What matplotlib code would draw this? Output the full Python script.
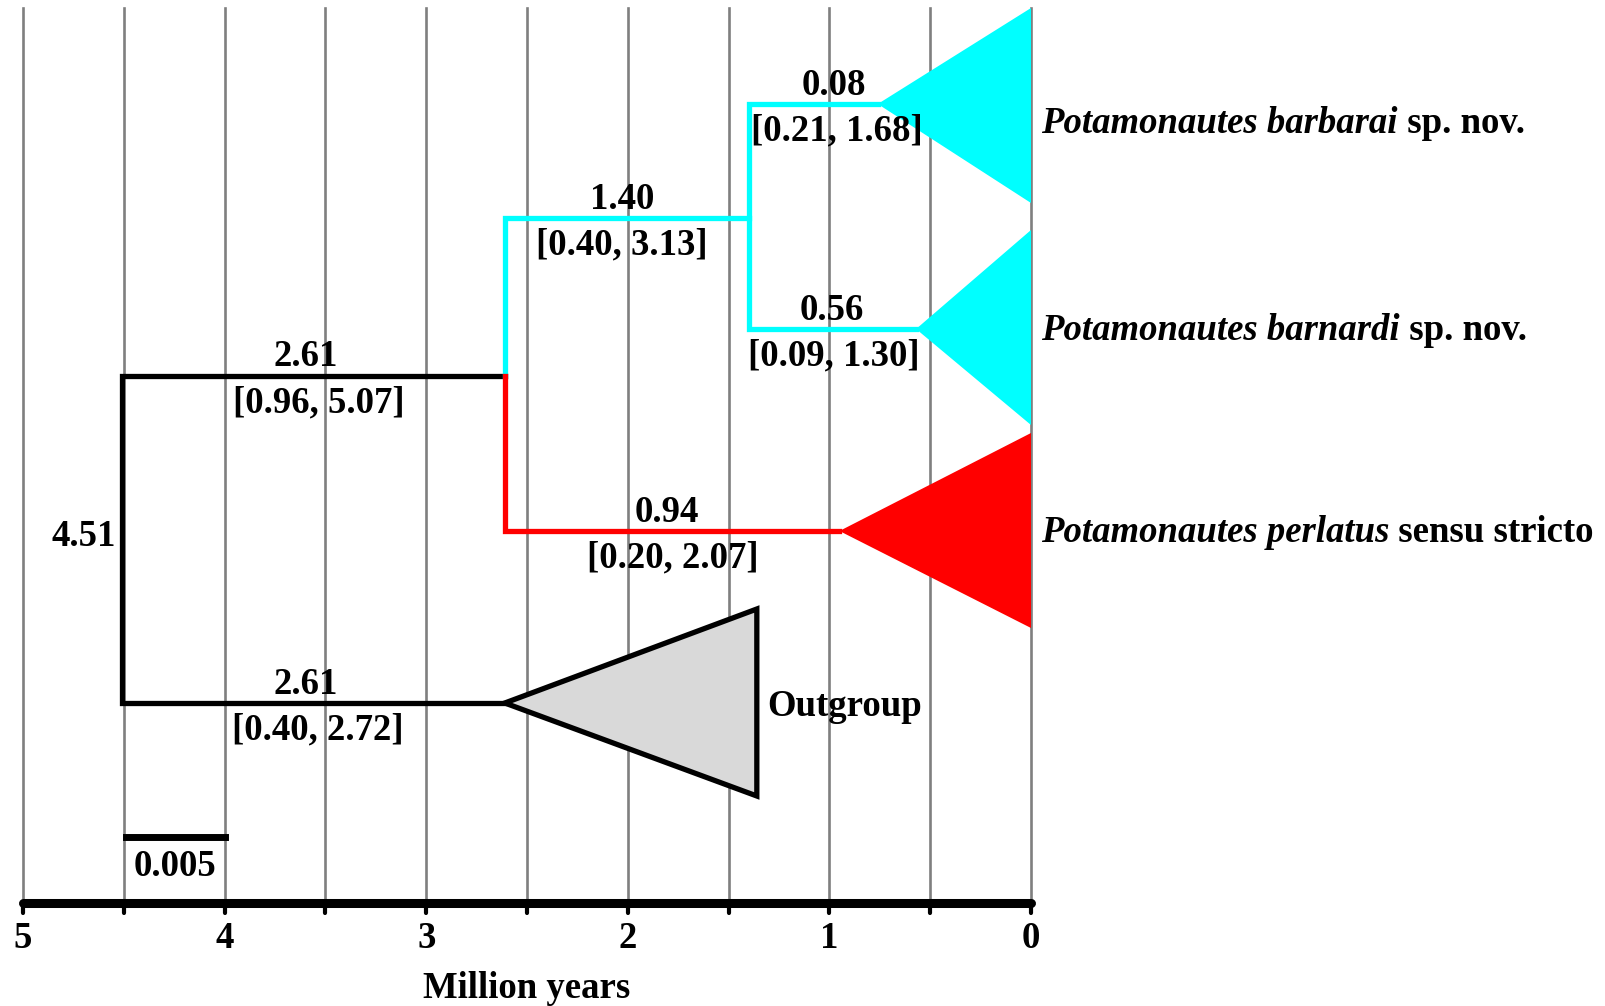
import numpy as np
import matplotlib.pyplot as plt

plt.rcParams['font.family'] = ['Liberation Serif', 'DejaVu Serif']

# node ages (Myr) and their 95% HPD
node_age = {"root": 4.51, "ingroup": 2.61, "cyan": 1.40}
branch_labels = [
    # (text, hpd, x of text in Myr, x of hpd in Myr, y row)
    ("0.08", "[0.21, 1.68]", 0.98, 0.963, 104),
    ("1.40", "[0.40, 3.13]", 2.03, 2.028, 218),
    ("0.56", "[0.09, 1.30]", 0.99, 0.979, 329),
    ("2.61", "[0.96, 5.07]", 3.60, 3.534, 376),
    ("0.94", "[0.20, 2.07]", 1.805, 1.775, 531),
    ("2.61", "[0.40, 2.72]", 3.60, 3.54, 703),
]
# clade triangles: name, apex age, base age, apex row, base top row, base bottom row, colour
clades = [
    ("barbarai", 0.76, 0.0, 104, 8, 203, "#00ffff"),
    ("barnardi", 0.57, 0.0, 329, 230, 425, "#00ffff"),
    ("perlatus", 0.95, 0.0, 531, 433, 628, "#ff0000"),
    ("outgroup", 2.61, 1.36, 703, 609, 796, "#d9d9d9"),
]
tip_names = [
    ("Potamonautes barbarai", " sp. nov.", 123),
    ("Potamonautes barnardi", " sp. nov.", 331),
    ("Potamonautes perlatus", " sensu stricto", 533),
]
ticks = [5, 4, 3, 2, 1, 0]
grid_x = np.arange(0, 5.01, 0.5)

fig = plt.figure(figsize=(16.05, 10.06), dpi=100)
ax = fig.add_axes([0, 0, 1, 1])
px = 5 / 1008
ax.set_xlim(5 + 23 * px, -(1605 - 1031) * px)
ax.set_ylim(1006, 0)
ax.axis('off')

axis_y = 903
fs = 26.5

# vertical grid
for g in grid_x:
    ax.plot([g, g], [8, axis_y], color='#7f7f7f', lw=1.9, zorder=1)

# time axis
ax.plot([5, 0], [axis_y, axis_y], color='black', lw=6.5, solid_capstyle='round', zorder=3)
for g in grid_x:
    ax.plot([g, g], [axis_y, axis_y + 10], color='black', lw=3, solid_capstyle='round', zorder=3)
for t in ticks:
    ax.text(t, 938, str(t), ha='center', va='center', fontsize=fs, fontweight='bold')
ax.text(2.5, 989, "Million years", ha='center', va='center', fontsize=fs, fontweight='bold')

lw = 3.8
r, ig, c = node_age["root"], node_age["ingroup"], node_age["cyan"]
# black part
ax.plot([ig, r, r, ig], [376, 376, 703, 703], color='black', lw=lw, zorder=4,
        solid_joinstyle='miter')
# cyan part
ax.plot([ig, ig, c], [376, 218, 218], color='#00ffff', lw=lw, zorder=4, solid_joinstyle='miter')
ax.plot([clades[0][1], c, c, clades[1][1]], [104, 104, 329, 329], color='#00ffff', lw=lw,
        zorder=4, solid_joinstyle='miter')
# red part
ax.plot([ig, ig, clades[2][1]], [376, 531, 531], color='#ff0000', lw=lw, zorder=4,
        solid_joinstyle='miter')

for name, apex, base, ay, b0, b1, col in clades:
    if name == "outgroup":
        ax.fill([apex, base, base], [ay, b0, b1], facecolor=col, edgecolor='black', lw=lw,
                zorder=5, joinstyle='miter')
    else:
        ax.fill([apex, base, base], [ay, b0, b1], facecolor=col, edgecolor='none', zorder=5)

for txt, hpd, x, xh, y in branch_labels:
    ax.text(x, y - 19, txt, ha='center', va='center', fontsize=fs, fontweight='bold', zorder=6)
    ax.text(xh, y + 27, hpd, ha='center', va='center', fontsize=fs, fontweight='bold',
            zorder=6)
ax.text(r + 0.03, 536, "4.51", ha='right', va='center', fontsize=fs, fontweight='bold')

ax.text(1.31, 707, "Outgroup", ha='left', va='center', fontsize=fs, fontweight='bold')

for it, rest, y in tip_names:
    t = ax.text(-0.05, y, it, ha='left', va='center', fontsize=fs, fontweight='bold',
                style='italic')
    fig.canvas.draw()
    bb = t.get_window_extent().transformed(ax.transData.inverted())
    ax.text(bb.x1, y, rest, ha='left', va='center', fontsize=fs, fontweight='bold')

# scale bar
ax.plot([4.49, 4.0], [837, 837], color='black', lw=5, zorder=4)
ax.text(4.245, 866, "0.005", ha='center', va='center', fontsize=fs, fontweight='bold')

fig.savefig("out.png", dpi=100)
